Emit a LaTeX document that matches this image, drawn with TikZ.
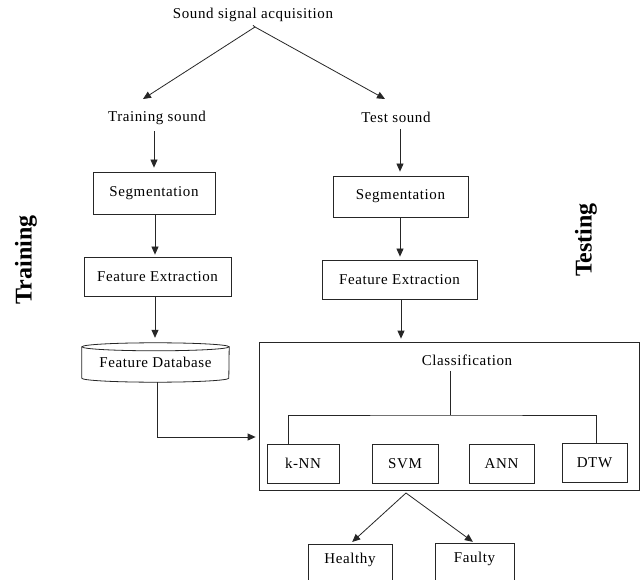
\documentclass[tikz,border=0pt]{standalone}
\usepackage{fontspec}
\setmainfont{Liberation Serif}[LetterSpace=4, BoldFeatures={LetterSpace=0}]
\usetikzlibrary{arrows.meta,calc}
\begin{document}
\begin{tikzpicture}[x=1pt,y=-1pt,
  every node/.style={font=\fontsize{15}{18}\selectfont, text=black},
  line/.style={draw=black!85, line width=0.8pt},
  arr/.style={line, -{Triangle[length=8pt,width=7pt]}},
  box/.style={draw=black!85, line width=0.8pt, inner sep=2pt},
  side/.style={rotate=90, font=\bfseries\fontsize{24}{28}\selectfont}]
\useasboundingbox (0,0) rectangle (640,580);
\clip (0,0) rectangle (640,580);
\fill[white] (0,0) rectangle (640,580);

% top
\node (sa) at (253,15) {Sound signal acquisition};
\node (ts1) at (157,118) {Training sound};
\node (ts2) at (396,117) {Test sound};
\coordinate (apex) at (255,27);
\coordinate (tipL) at (143,99);
\coordinate (tipR) at (385,99);
\draw[line] (sa.south) -- (apex);
\draw[arr] (apex) -- (tipL);
\draw[arr] (apex) -- (tipR);

% training column
\node[box, minimum width=122, minimum height=42] (seg1) at (154,193) {Segmentation};
\node[box, minimum width=147, minimum height=39] (fe1) at (157.5,276.5) {Feature Extraction};
\node[minimum width=147, minimum height=39, inner sep=0pt] (db) at (155.5,362.5) {Feature Database};
\draw[line] ($(db.north)+(0,4)$) ellipse [x radius=73.5pt, y radius=4pt];
\draw[line] ($(db.north west)+(0,4)$) -- ($(db.south west)+(0,-4)$)
  arc[start angle=180, end angle=360, x radius=73.5pt, y radius=4pt]
  -- ($(db.north east)+(0,4)$);

\draw[arr, shorten <=3pt, shorten >=4pt] (ts1.south -| seg1.north) -- (seg1.north);
\draw[arr, shorten >=2pt] (seg1.south -| 155,0) -- (fe1.north -| 155,0);
\draw[arr, shorten >=5pt] (fe1.south -| 155,0) -- (db.north -| 155,0);

% testing column
\node[box, minimum width=135, minimum height=41] (seg2) at (400.5,196.5) {Segmentation};
\node[box, minimum width=155, minimum height=39] (fe2) at (399.5,279.5) {Feature Extraction};
\draw[arr, shorten <=3pt, shorten >=4pt] (ts2.south -| 400,0) -- (seg2.north -| 400,0);
\draw[arr, shorten >=3pt] (seg2.south -| 400,0) -- (fe2.north -| 400,0);

% classification
\node[box, minimum width=380, minimum height=148] (cls) at (449,416) {};
\draw[arr, shorten >=3pt] (fe2.south -| 401,0) -- (cls.north -| 401,0);
\node (clt) at (467,360) {Classification};
\node[box, minimum width=72, minimum height=39] (knn) at (303,463.5) {k-NN};
\node[box, minimum width=66, minimum height=39] (svm) at (405,463.5) {SVM};
\node[box, minimum width=65, minimum height=39] (ann) at (501.5,463.5) {ANN};
\node[box, minimum width=65, minimum height=39] (dtw) at (594.5,462.5) {DTW};
\coordinate (bus) at (450,415);
\draw[line] (clt.south -| bus) ++(0,2) -- (bus);
\draw[line] (knn.north -| 288,0) |- (bus) -| (dtw.north -| 596,0);
\draw[line] (svm.north -| 404,0) -- (svm.north -| 404,0 |- bus);
\draw[line] (ann.north -| 506,0) -- (ann.north -| 506,0 |- bus);

% database to classification
\draw[arr, shorten >=3pt] (db.south -| 157,0) |- (cls.west |- 0,437);

% outputs
\node[box, anchor=north, minimum width=84, text height=15pt, text depth=30pt, inner sep=4pt] (hl) at (350,544) {Healthy};
\node[box, anchor=north, minimum width=79, text height=15pt, text depth=30pt, inner sep=4pt] (fl) at (474.5,543) {Faulty};
\coordinate (apex2) at (406,493);
\draw[arr, shorten >=3pt] (apex2) -- (hl.north);
\draw[arr, shorten >=2pt] (apex2) -- (fl.north);

% side labels
\node[side] (trn) at (26,260) {Training};
\node[side] (tst) at (586,240) {Testing};
\end{tikzpicture}
\end{document}
